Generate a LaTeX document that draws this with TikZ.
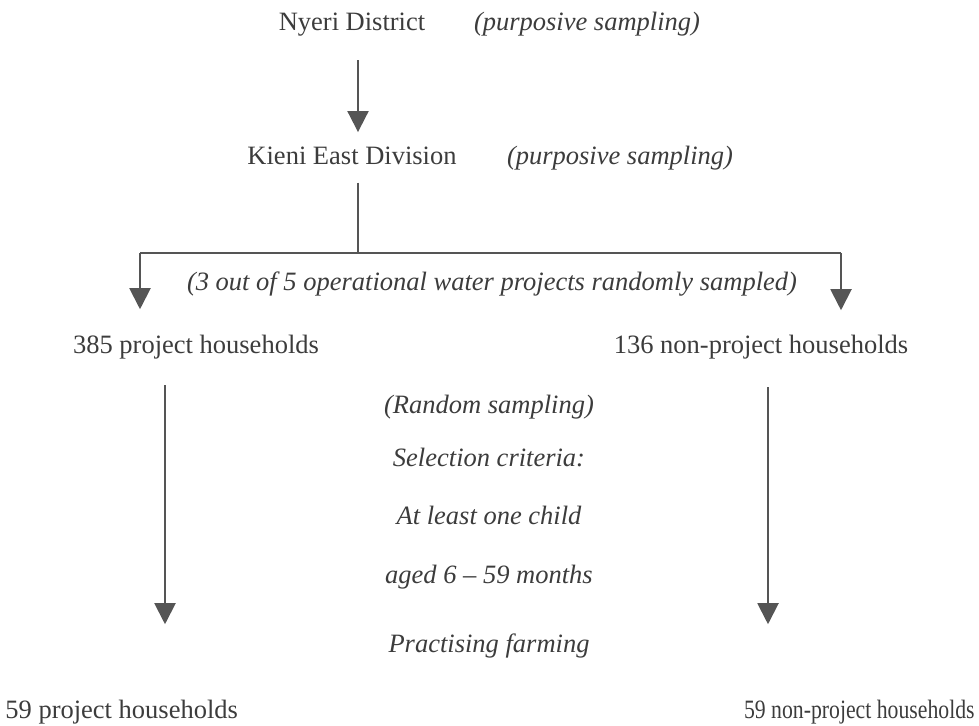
\documentclass[tikz,border=0pt]{standalone}
\usepackage{fontspec}
\setmainfont{Liberation Serif}
\usetikzlibrary{arrows.meta,positioning,calc}
\definecolor{inkgray}{HTML}{3C3C3C}
\definecolor{linegray}{HTML}{555555}

\begin{document}
\begin{tikzpicture}[
  x=0.5pt,y=-0.5pt,
  font=\fontsize{13.25}{16}\selectfont,
  lbl/.style={anchor=base,inner sep=0pt,text=inkgray},
  note/.style={lbl,font=\fontsize{13.25}{16}\selectfont\itshape},
  link/.style={draw=linegray,line width=1pt},
  arr/.style={link,-{Triangle[length=10.5pt,width=10.5pt]}}
]
\useasboundingbox (0,0) rectangle (979,725);
% levels
\node[lbl] (nyeri) at (352,30) {Nyeri District};
\node[note] (nyerinote) at (587,30) {(purposive sampling)};
\node[lbl] (kieni) at (352,164) {Kieni East Division};
\node[note] (kieninote) at (620,164) {(purposive sampling)};
\node[note] (projnote) at (492,290) {(3 out of 5 operational water projects randomly sampled)};
\node[lbl] (proj) at (196,353) {385 project households};
\node[lbl] (nonproj) at (761,353) {136 non-project households};
% selection criteria
\node[note] (rand) at (489,413) {(Random sampling)};
\node[note] (crit) at (489,466) {Selection criteria:};
\node[note] (child) at (489,524) {At least one child};
\node[note] (aged) at (489,583) {aged 6 -- 59 months};
\node[note] (farm) at (489,652) {Practising farming};
% samples
\node[lbl,anchor=base west] (projS) at (5,718) {59 project households};
\node[lbl,anchor=base east] (nonprojS) at (975,718) {\scalebox{0.82}[1]{59 non-project households}};
% connectors
\coordinate (trunk) at (358,253);
\coordinate (splitL) at (140,253);
\coordinate (splitR) at (841,253);
\coordinate (colL) at (165,0);
\coordinate (colR) at (768,0);
\draw[arr,shorten <=12pt,shorten >=7pt] (nyeri.south -| trunk) -- (kieni.north -| trunk);
\draw[link,shorten <=9pt] (kieni.south -| trunk) -- (trunk);
\draw[link] (splitL) -- (splitR);
\draw[arr,shorten >=12.5pt] (splitL) -- (splitL |- proj.north);
\draw[arr,shorten >=12pt] (splitR) -- (splitR |- nonproj.north);
\draw[arr,shorten <=13pt,shorten >=37.5pt] (proj.south -| colL) -- (projS.north -| colL);
\draw[arr,shorten <=14pt,shorten >=37.5pt] (nonproj.south -| colR) -- (nonprojS.north -| colR);
\end{tikzpicture}
\end{document}
